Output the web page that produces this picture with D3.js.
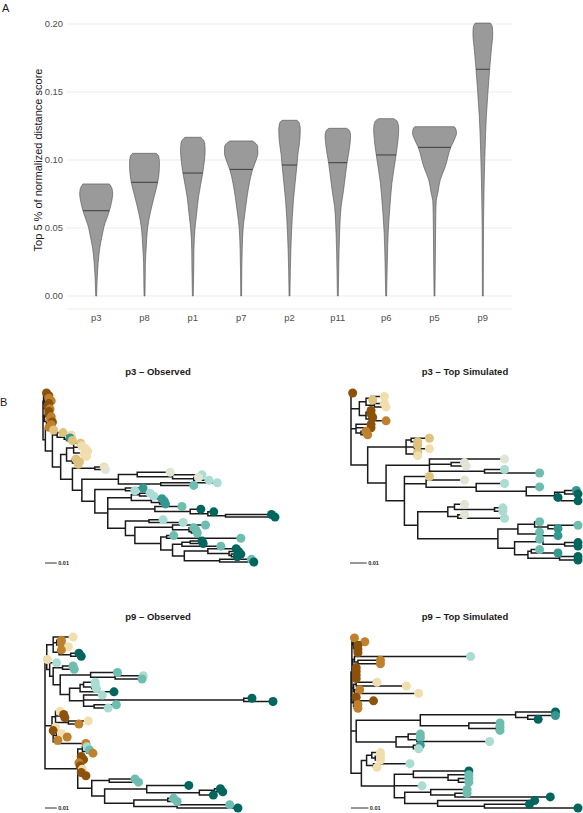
<!DOCTYPE html>
<html><head><meta charset="utf-8">
<script src="https://cdn.jsdelivr.net/npm/d3@7"></script>
<style>body{margin:0;background:#fff}svg{display:block}</style>
</head><body>
<svg id="c" width="583" height="813"></svg>
<script>
// ---------- Panel A data ----------
const patients = ["p3","p8","p1","p7","p2","p11","p6","p5","p9"];
const medians  = [0.0627,0.0836,0.0904,0.0931,0.0963,0.0980,0.1037,0.1093,0.1667];
const yTicks   = [0.00,0.05,0.10,0.15,0.20];
// violin outlines: [score, relative density]
const dens_p3  = [[0,0.02],[0.01,0.04],[0.024,0.09],[0.036,0.17],[0.045,0.28],[0.05,0.34],[0.0627,0.6],[0.07,0.71],[0.075,0.75],[0.079,0.72],[0.0824,0.6]];
const dens_p8  = [[0,0.02],[0.01,0.03],[0.024,0.04],[0.036,0.08],[0.05,0.14],[0.061,0.26],[0.073,0.44],[0.0836,0.6],[0.092,0.67],[0.098,0.68],[0.103,0.64],[0.1049,0.53]];
const dens_p1  = [[0,0.02],[0.02,0.04],[0.034,0.05],[0.05,0.1],[0.06,0.17],[0.073,0.26],[0.0904,0.45],[0.1,0.53],[0.107,0.56],[0.113,0.53],[0.1167,0.36]];
const dens_p7  = [[0,0.02],[0.02,0.03],[0.035,0.05],[0.05,0.09],[0.061,0.17],[0.073,0.27],[0.0828,0.37],[0.0931,0.52],[0.1,0.68],[0.105,0.76],[0.11,0.75],[0.114,0.52]];
const dens_p2  = [[0,0.02],[0.02,0.04],[0.046,0.09],[0.0706,0.18],[0.0963,0.34],[0.104,0.38],[0.112,0.45],[0.122,0.49],[0.127,0.45],[0.1292,0.34]];
const dens_p11 = [[0,0.02],[0.02,0.04],[0.046,0.08],[0.0657,0.15],[0.0755,0.24],[0.0828,0.3],[0.098,0.42],[0.11,0.54],[0.118,0.58],[0.1215,0.53],[0.1233,0.4]];
const dens_p6  = [[0,0.02],[0.02,0.045],[0.046,0.09],[0.0657,0.17],[0.0828,0.26],[0.1037,0.45],[0.115,0.54],[0.123,0.57],[0.1285,0.5],[0.1304,0.34]];
const dens_p5  = [[0,0.02],[0.03,0.04],[0.06,0.06],[0.07,0.08],[0.0755,0.15],[0.0853,0.26],[0.0951,0.49],[0.1093,0.74],[0.116,0.93],[0.1196,1.0],[0.1228,0.97],[0.1245,0.9]];
const dens_p9  = [[0,0.02],[0.05,0.03],[0.083,0.06],[0.107,0.1],[0.132,0.16],[0.1515,0.24],[0.1667,0.31],[0.18,0.38],[0.193,0.45],[0.198,0.43],[0.2007,0.34]];
const profiles = [dens_p3,dens_p8,dens_p1,dens_p7,dens_p2,dens_p11,dens_p6,dens_p5,dens_p9];

// ---------- Panel B data ----------
// tip letter -> sampling time colour
const tipKeys   = ["a","b","c","d","e","f","g","h","i"];
const tipColors = ["#8c510a","#bf812d","#dfc27d","#f1deae","#dfe6d5","#abdcd3","#6dbdb1","#35978f","#01665e"];
const treeTitles = ["p3 \u2013 Observed","p3 \u2013 Top Simulated","p9 \u2013 Observed","p9 \u2013 Top Simulated"];
const scaleBarValue = 0.01;
// Newick-like trees; number after ':' = root-to-node distance (x 0.001 subst./site)
const tree_p3_obs = `(
 ((a:3,a:5):1,(b:5,(b:7,a:5):3):1,(a:4,(b:6,a:5):3):2):0.5,
 ((a:5,b:7):2,(b:6,(a:8,b:7):5):3):1,
 ((b:5,c:9):4,
  ((c:17,(d:24,(h:23,c:25):20):18):12,
   (((c:32,(d:33,d:36):31,(d:38,(d:35,d:37):34):33):26,(c:28,(c:31,c:30):29):25):20,
    ((d:52,e:53):44,
     (((e:108,(f:135,(e:132,f:141):128):110):80,(f:148,g:128):100):64,
      ((h:85,f:78):70,
       (((f:91,f:94):82,(h:101,(h:103,h:104):99):92):75,
        (g:118,(i:134,(i:145,(i:194,i:197):155):140):125):95,
        ((f:102,f:119):90,
         ((g:138,(g:128,(g:130,g:131):126):124):110,
          ((g:111,g:168):105,
           (((i:135,i:136):125,g:151):118,((i:164,(i:166,(i:168,i:165):160):158):140,(g:177,i:179):150):120):110
          ):100
         ):78
        ):70
       ):55
      ):44
     ):33
    ):25
   ):15
  ):8
 ):2
)`;
const tree_p3_sim = `(
 a:1,
 (((d:20,c:13):12,(d:20,d:21):14):9,((a:12,a:12):10,(a:13,b:21):11):9):5,
 (a:12,a:12,(b:9,b:10):6):3,
 (((c:47,c:40):36,(c:40,d:47):38,(c:40,d:40):38):33,
  ((e:92,(e:68,e:69):60,(f:92,g:113):80):47,
   (c:47,
    (e:68,(f:92,(g:113,((h:135,i:136):128,(i:124,i:136):126):122):105):75):45,
    (((e:68,(f:91,f:91):86):62,(e:68,f:92):64):58,
     (((g:113,(g:136,h:124):118):110,(g:113,h:124):112):100,((g:113,(i:136,i:136):128):115,((g:113,h:124):108,(i:136,i:136):125):106):98):88
    ):40
   ):32
  ):21
 ):10
)`;
const tree_p9_obs = `(
 (((d:24,(b:14,(b:14,d:20):12):10,(b:14,(i:29,i:31):22):12):7,
   d:2,
   (f:10,
    ((g:24,g:25):15,
     ((g:62,(f:84,g:83):60):39,
      (((f:43,(f:43,f:44):40):33,i:59):30,
       (f:49,(i:177,i:195):170,(g:61,f:54):42):33
      ):21
     ):13
    ):7
   ):4
 ):1.5,
 ((d:13,(a:16,a:17):14,(d:37,b:29):20):9,(d:9,a:7,(d:14,b:19):10,(b:11,b:35):9):7):6,
 ((f:36,(g:38,b:41):36):32,
  (a:31,a:33):29,
  b:29,
  ((a:30,d:32):30,(a:31,a:35):31):29,
  ((g:77,g:80):55,
   ((i:123,((i:150,i:152):145,i:144):132):87,((g:110,g:113):105,(g:158,i:165):113):76):51
  ):40
 ):28
)`;
const tree_p9_sim = `(
 ((b:2,(b:8,(a:4,(a:4,a:4):3):2):1.5):1,
  ((f:69,(b:17,b:17):4):2,((a:3,a:3):2,(a:3,a:3):2.5):1.5):1,
  ((d:15,d:32):3,(b:5,d:39):2):1.5,
  ((a:3,a:13):2,(b:4,b:4):2):1.5
 ):0.5,
 (((i:118,(h:118,i:108):102):95,(g:86,(g:86,g:86):84):68):40,
  ((g:40,(g:40,f:80):38):33,(h:40,f:39):36):26
 ):3,
 (((d:17,(d:17,d:17):14):12,(f:34,d:15):13):9,
  ((i:68,(g:68,(g:68,g:68):62):56):36,
   f:41,
   ((g:67,(g:67,i:115):60):46,(i:106,(i:103,i:131):77):50):31
  ):25
 ):6
)`;
const trees = [tree_p3_obs,tree_p3_sim,tree_p9_obs,tree_p9_sim];

// ---------- drawing ----------
const FONT = "'Liberation Sans', Arial, Helvetica, sans-serif";
const svg = d3.select("#c").style("font-family", FONT);

// Panel A
const gA = svg.append("g");
const y = d3.scaleLinear().domain([0,0.2]).range([296,24]);
const x = d3.scaleBand().domain(patients).range([72,507]);
const wS = d3.scaleLinear().domain([0,1]).range([0,22]);

gA.selectAll("line.grid").data(yTicks).join("line")
  .attr("x1",67).attr("x2",512).attr("y1",d=>y(d)).attr("y2",d=>y(d))
  .attr("stroke","#ebebeb").attr("stroke-width",1);
gA.append("line").attr("x1",67).attr("x2",512).attr("y1",309).attr("y2",309)
  .attr("stroke","#ebebeb").attr("stroke-width",1);

gA.selectAll("text.yt").data(yTicks).join("text")
  .attr("x",63).attr("y",d=>y(d)).attr("dy","0.35em").attr("text-anchor","end")
  .attr("font-size",9.4).attr("fill","#4d4d4d").text(d3.format(".2f"));
gA.selectAll("text.xt").data(patients).join("text")
  .attr("x",d=>x(d)+x.bandwidth()/2).attr("y",321).attr("text-anchor","middle")
  .attr("font-size",9.4).attr("fill","#4d4d4d").text(d=>d);
gA.append("text").attr("transform","translate(38.5,160) rotate(-90)")
  .attr("text-anchor","middle").attr("dy","0.35em").attr("font-size",11)
  .attr("fill","#1a1a1a").text("Top 5 % of normalized distance score");
svg.append("text").attr("x",2).attr("y",12).attr("font-size",11).attr("fill","#1a1a1a").text("A");
svg.append("text").attr("x",0).attr("y",406).attr("font-size",11).attr("fill","#1a1a1a").text("B");

function densAt(prof, s){
  for(let i=1;i<prof.length;i++){
    if(s<=prof[i][0]){const a=prof[i-1],b=prof[i];const t=(s-a[0])/(b[0]-a[0]);return a[1]+t*(b[1]-a[1]);}
  }
  return prof[prof.length-1][1];
}
patients.forEach((p,k)=>{
  const prof = profiles[k];
  const cx = x(p)+x.bandwidth()/2;
  const area = d3.area().curve(d3.curveMonotoneY)
    .y(d=>y(d[0])).x0(d=>cx-wS(d[1])).x1(d=>cx+wS(d[1]));
  gA.append("path").attr("d",area(prof)).attr("fill","#9a9a9a")
    .attr("stroke","#4d4d4d").attr("stroke-width",0.6);
  const dm = wS(densAt(prof,medians[k]));
  gA.append("line").attr("x1",cx-dm).attr("x2",cx+dm)
    .attr("y1",y(medians[k])).attr("y2",y(medians[k]))
    .attr("stroke","#333").attr("stroke-width",0.9);
});

// Panel B
function parseNewick(str){
  const s = str.replace(/\s+/g,"");
  let i = 0;
  function node(){
    const n = {children:[]};
    if(s[i]==="("){
      i++; n.children.push(node());
      while(s[i]===","){ i++; n.children.push(node()); }
      i++; // ')'
    }
    let lab=""; while(i<s.length && !"(),:;".includes(s[i])) lab+=s[i++];
    n.name = lab;
    if(s[i]===":"){ i++; let num=""; while(i<s.length && /[0-9.eE+-]/.test(s[i])) num+=s[i++]; n.depth=+num/1000; }
    else n.depth = 0;
    return n;
  }
  return node();
}
const colorOf = d3.scaleOrdinal().domain(tipKeys).range(tipColors);
const layouts = [
  {x0:43, x1:275, y0:393, y1:562, tx:158, ty:375, bx:45, by:563},
  {x0:351,x1:578, y0:393, y1:560, tx:465, ty:375, bx:350,by:563},
  {x0:45, x1:273, y0:637, y1:808, tx:158, ty:620, bx:45, by:808},
  {x0:351,x1:578, y0:638, y1:808, tx:465, ty:620, bx:351,by:808}
];
trees.forEach((tstr,k)=>{
  const cfg = layouts[k];
  const root = d3.hierarchy(parseNewick(tstr), d=>d.children.length?d.children:null);
  const leaves = root.leaves();
  const maxD = d3.max(leaves, d=>d.data.depth);
  const xs = d3.scaleLinear().domain([0,maxD]).range([cfg.x0,cfg.x1]);
  const ys = d3.scalePoint().domain(d3.range(leaves.length)).range([cfg.y0,cfg.y1]);
  leaves.forEach((l,i)=>{ l.yy = ys(i); });
  root.eachAfter(n=>{ if(n.children) n.yy=(n.children[0].yy+n.children[n.children.length-1].yy)/2; });
  const path = d3.path();
  root.each(n=>{
    const xn = xs(n.data.depth);
    if(n.parent){ path.moveTo(xs(n.parent.data.depth), n.yy); path.lineTo(xn, n.yy); }
    if(n.children){ path.moveTo(xn, n.children[0].yy); path.lineTo(xn, n.children[n.children.length-1].yy); }
  });
  const g = svg.append("g");
  g.append("path").attr("d",path.toString()).attr("fill","none")
    .attr("stroke","#1a1a1a").attr("stroke-width",1.5).attr("stroke-linecap","square");
  g.selectAll("circle").data(leaves).join("circle")
    .attr("cx",d=>xs(d.data.depth)).attr("cy",d=>d.yy).attr("r",4.5)
    .attr("fill",d=>colorOf(d.data.name));
  g.append("text").attr("x",cfg.tx).attr("y",cfg.ty).attr("text-anchor","middle")
    .attr("font-size",9.5).attr("font-weight","bold").attr("fill","#1a1a1a").text(treeTitles[k]);
  const bl = xs(scaleBarValue)-xs(0);
  g.append("line").attr("x1",cfg.bx).attr("x2",cfg.bx+bl).attr("y1",cfg.by).attr("y2",cfg.by)
    .attr("stroke","#1a1a1a").attr("stroke-width",0.9);
  g.append("text").attr("x",cfg.bx+bl+1.5).attr("y",cfg.by).attr("dy","0.35em")
    .attr("font-size",5.5).attr("font-weight","bold").attr("fill","#1a1a1a").text(String(scaleBarValue));
});
</script>
</body></html>
